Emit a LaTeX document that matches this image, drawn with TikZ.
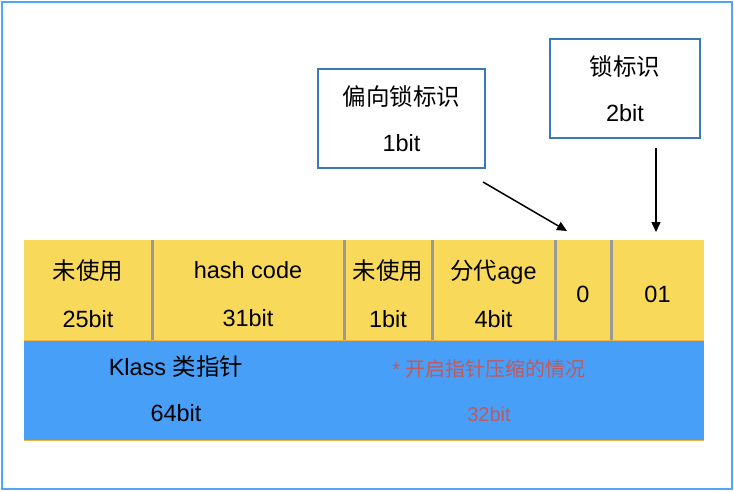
\documentclass[tikz,border=0pt]{standalone}
\usepackage{fontspec}
\setmainfont{Liberation Sans}
\newfontfamily\cjk{Noto Sans CJK SC}
\usepackage{xcolor}
\usepackage{tikz}
\usetikzlibrary{arrows.meta, positioning}
\definecolor{frameblue}{HTML}{4DA6F7}
\definecolor{cellyellow}{HTML}{F8D959}
\definecolor{klassblue}{HTML}{479FF7}
\definecolor{divgray}{HTML}{9A9A9A}
\definecolor{boxblue}{HTML}{3A78B8}
\definecolor{noteRed}{HTML}{BF5A5F}
\definecolor{edgeorange}{HTML}{F0B040}

\begin{document}
\begin{tikzpicture}[x=1pt, y=-1pt,
		cell/.style={fill=cellyellow, minimum width=#1, minimum height=100pt, inner sep=0pt},
		celltext/.style={yshift=-4pt, inner sep=0pt, align=center, font=\fontsize{23.5}{48}\selectfont},
		divider/.style={draw=divgray, line width=3pt},
		tagbox/.style={draw=boxblue, line width=1.6pt, fill=white, minimum height=99pt, inner sep=0pt, align=center, font=\fontsize{23.5}{46}\selectfont},
		pointer/.style={line width=1.5pt, -{Triangle[length=10pt, width=9pt]}}]
		\useasboundingbox (0,0) rectangle (734,491);
		\draw[frameblue, line width=2.5pt] (2,2) rectangle (732,489);
		% Paths, nodes and wires:
		\node[cell=128pt, label={[celltext]center:{\cjk 未使用}\\25bit}] (unused) at (88, 290){};
		\node[cell=192pt, label={[celltext]center:hash code\\31bit}] (hash) at (248, 290){};
		\node[cell=88pt, label={[celltext]center:{\cjk 未使用}\\1bit}] (spare) at (388, 290){};
		\node[cell=123pt, label={[celltext]center:{\cjk 分代}age\\4bit}] (age) at (493.5, 290){};
		\node[cell=56pt, label={[celltext]center:0}] (biased) at (583, 290){};
		\node[cell=93pt, label={[celltext]center:01}] (lock) at (657.5, 290){};
		\draw[divider] (unused.north east) -- (unused.south east);
		\draw[divider] (hash.north east) -- (hash.south east);
		\draw[divider] (spare.north east) -- (spare.south east);
		\draw[divider] (age.north east) -- (age.south east);
		\draw[divider] (biased.north east) -- (biased.south east);
		\node[fill=klassblue, minimum width=680pt, minimum height=99pt, inner sep=0pt] (klass) at (364, 390.5){};
		\draw[edgeorange, line width=1pt] (klass.north west) -- (klass.north east);
		\draw[edgeorange, line width=1pt] (klass.south west) -- (klass.south east);
		\node[align=center, font=\fontsize{23.5}{46}\selectfont] (klasstxt) at (176, 389){Klass {\cjk 类指针}\\64bit};
		\node[align=center, text=noteRed, font=\fontsize{20}{45}\selectfont] (compressed) at (489, 391){* {\cjk 开启指针压缩的情况}\\32bit};
		\node[tagbox, minimum width=167pt] (biasbox) at (401.5, 118.5){{\cjk 偏向锁标识}\\1bit};
		\node[tagbox, minimum width=150pt] (lockbox) at (625, 88.5){{\cjk 锁标识}\\2bit};
		\coordinate (biasTail) at (483, 182);
		\coordinate (biasTip) at (567, 231);
		\coordinate (lockTail) at (656, 148);
		\coordinate (lockTip) at (656, 232);
		\draw[pointer] (biasTail) -- (biasTip);
		\draw[pointer] (lockTail) -- (lockTip);
	\end{tikzpicture}
\end{document}
